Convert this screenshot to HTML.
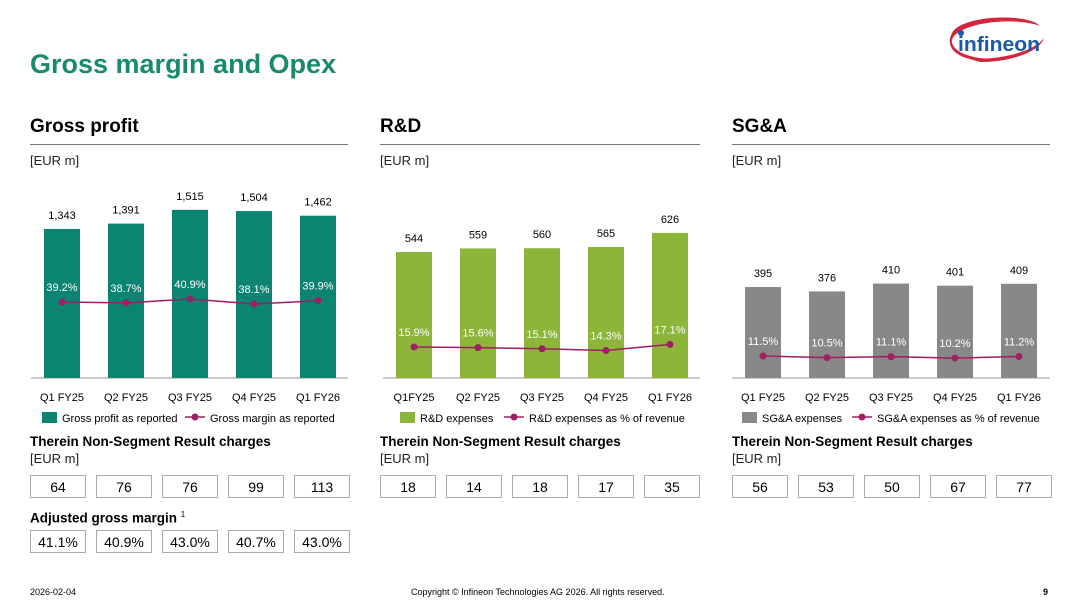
<!DOCTYPE html>
<html><head><meta charset="utf-8"><style>
body{margin:0;width:1080px;height:608px;background:#fff;font-family:"Liberation Sans",Arial,sans-serif;overflow:hidden;position:relative}
.a{position:absolute;white-space:nowrap}
.h{font-weight:bold;font-size:19px;color:#000}
.u{font-size:13px;color:#222}
.hr{position:absolute;height:1px;background:#777}
.sub{font-weight:bold;font-size:13.5px}
.box{position:absolute;border:1px solid #aaa;height:23px;line-height:23px;text-align:center;font-size:14px;box-sizing:border-box}
</style></head><body>
<div class="a" style="left:30px;top:49px;font-size:27px;font-weight:bold;color:#1a8a6c">Gross margin and Opex</div>
<svg class="a" style="left:940px;top:12px" width="110" height="55" viewBox="0 0 110 55">
<path d="M14 18 C30 2 90 2 100 14 C80 6 30 8 14 24 C4 36 30 50 60 46 C30 54 -2 40 14 18Z" fill="#d5243c"/>
<path d="M20 44 C50 52 95 40 104 26 C100 40 70 50 40 50Z" fill="#d5243c"/>
<circle cx="21" cy="21" r="3" fill="#1a5aa5"/>
<text x="18" y="39" font-size="20" font-weight="bold" font-family="Liberation Sans Narrow, Liberation Sans" textLength="82" lengthAdjust="spacingAndGlyphs" fill="#1a5aa5">infineon</text>
</svg>

<div class="a h" style="left:30px;top:116px">Gross profit</div>
<div class="hr" style="left:30px;top:144px;width:318px"></div>
<div class="a u" style="left:30px;top:153px">[EUR m]</div>
<div class="a h" style="left:380px;top:116px">R&amp;D</div>
<div class="hr" style="left:380px;top:144px;width:320px"></div>
<div class="a u" style="left:380px;top:153px">[EUR m]</div>
<div class="a h" style="left:732px;top:116px">SG&amp;A</div>
<div class="hr" style="left:732px;top:144px;width:318px"></div>
<div class="a u" style="left:732px;top:153px">[EUR m]</div>

<svg id="chart" class="a" style="left:0;top:0" width="1080" height="440"></svg>

<div class="a sub" style="left:30px;top:434px">Therein Non-Segment Result charges</div>
<div class="a u" style="left:30px;top:451px">[EUR m]</div>
<div class="a sub" style="left:380px;top:434px">Therein Non-Segment Result charges</div>
<div class="a u" style="left:380px;top:451px">[EUR m]</div>
<div class="a sub" style="left:732px;top:434px">Therein Non-Segment Result charges</div>
<div class="a u" style="left:732px;top:451px">[EUR m]</div>
<div class="a sub" style="left:30px;top:510px">Adjusted gross margin <sup style="font-size:8px;font-weight:normal">1</sup></div>
<div id="boxes"></div>

<div class="a" style="left:30px;top:587px;font-size:9px">2026-02-04</div>
<div class="a" style="left:411px;top:587px;font-size:9px">Copyright © Infineon Technologies AG 2026. All rights reserved.</div>
<div class="a" style="left:1043px;top:587px;font-size:9px;font-weight:bold">9</div>

<script>
const grossCats=["Q1 FY25","Q2 FY25","Q3 FY25","Q4 FY25","Q1 FY26"];
const rdCats=["Q1FY25","Q2 FY25","Q3 FY25","Q4 FY25","Q1 FY26"];
const sgaCats=["Q1 FY25","Q2 FY25","Q3 FY25","Q4 FY25","Q1 FY26"];
const grossValues=[1343,1391,1515,1504,1462];
const grossMargin=[39.2,38.7,40.9,38.1,39.9];
const rdValues=[544,559,560,565,626];
const rdPct=[15.9,15.6,15.1,14.3,17.1];
const sgaValues=[395,376,410,401,409];
const sgaPct=[11.5,10.5,11.1,10.2,11.2];
const grossNsr=["64","76","76","99","113"];
const rdNsr=["18","14","18","17","35"];
const sgaNsr=["56","53","50","67","77"];
const adjGm=["41.1%","40.9%","43.0%","40.7%","43.0%"];

const svg=document.getElementById('chart');
const NS='http://www.w3.org/2000/svg';
function mk(t,a,txt){const e=document.createElementNS(NS,t);for(const k in a)e.setAttribute(k,a[k]);if(txt!=null)e.textContent=txt;svg.appendChild(e);return e;}
const base=378;
function panel(p){
  const x=i=>p.x0+i*64;
  const y=v=>base-v*p.scale;
  const ly=v=>p.lref-(v-p.vref)*p.lslope;
  const ax=mk('line',{x1:p.ax0,x2:p.ax1,y1:base,y2:base,stroke:'#999','stroke-width':1});
  
  p.vals.forEach((v,i)=>{
    const r=mk('rect',{x:x(i)-18,y:y(v),width:36,height:base-y(v),fill:p.color});
    
    
    const t=mk('text',{x:x(i),y:y(v)-10,'text-anchor':'middle','font-size':11},v.toLocaleString('en-US'));
    
    
    const c=mk('text',{x:x(i),y:base+23,'text-anchor':'middle','font-size':11},p.cats[i]);
    
    
  });
  const pts=p.pct.map((v,i)=>x(i)+','+ly(v)).join(' ');
  const pl=mk('polyline',{points:pts,fill:'none',stroke:'#9e1f63','stroke-width':1.5});
  
  
  p.pct.forEach((v,i)=>{
    const d=mk('circle',{cx:x(i),cy:ly(v),r:3.5,fill:'#9e1f63'});
    
    
    const t=mk('text',{x:x(i),y:ly(v)-11,'text-anchor':'middle','font-size':11,fill:'#fff'},v.toFixed(1)+'%');
    
    
  });
  const lg=mk('rect',{x:p.lgx,y:412,width:15,height:11,fill:p.color});
  
  
  const l1=mk('text',{x:p.lgx+20,y:422,'font-size':11},p.l1);
  
  
  const lx=p.lgx+p.l2x;
  mk('line',{x1:lx,x2:lx+20,y1:417,y2:417,stroke:'#9e1f63','stroke-width':1.5});
  mk('circle',{cx:lx+10,cy:417,r:3.5,fill:'#9e1f63'});
  const l2=mk('text',{x:lx+25,y:422,'font-size':11},p.l2);
  
  
}
panel({id:'gross',x0:62,ax0:31,ax1:348,scale:0.111,vals:grossValues,pct:grossMargin,lref:302,vref:39.2,lslope:1.8,color:'#0b8471',cats:grossCats,lgx:42,l1:'Gross profit as reported',l2x:143,l2:'Gross margin as reported'});
panel({id:'rd',x0:414,ax0:383,ax1:700,scale:0.2318,vals:rdValues,pct:rdPct,lref:347,vref:15.9,lslope:2.2,color:'#8cb53a',cats:rdCats,lgx:400,l1:'R&D expenses',l2x:104,l2:'R&D expenses as % of revenue'});
panel({id:'sga',x0:763,ax0:732,ax1:1050,scale:0.2303,vals:sgaValues,pct:sgaPct,lref:356,vref:11.5,lslope:1.6,color:'#8a8787',cats:sgaCats,lgx:742,l1:'SG&A expenses',l2x:110,l2:'SG&A expenses as % of revenue'});

const bx=document.getElementById('boxes');
function row(arr,x0,y,id){
  arr.forEach((v,i)=>{
    const d=document.createElement('div');
    d.className='box';
    d.style.left=(x0+i*66)+'px';d.style.top=y+'px';d.style.width='56px';
    d.textContent=v;
    
    
    bx.appendChild(d);
  });
}
row(grossNsr,30,475,'gross-nsr');
row(rdNsr,380,475,'rd-nsr');
row(sgaNsr,732,475,'sga-nsr');
row(adjGm,30,530,'adjusted-gm');
</script>
</body></html>
